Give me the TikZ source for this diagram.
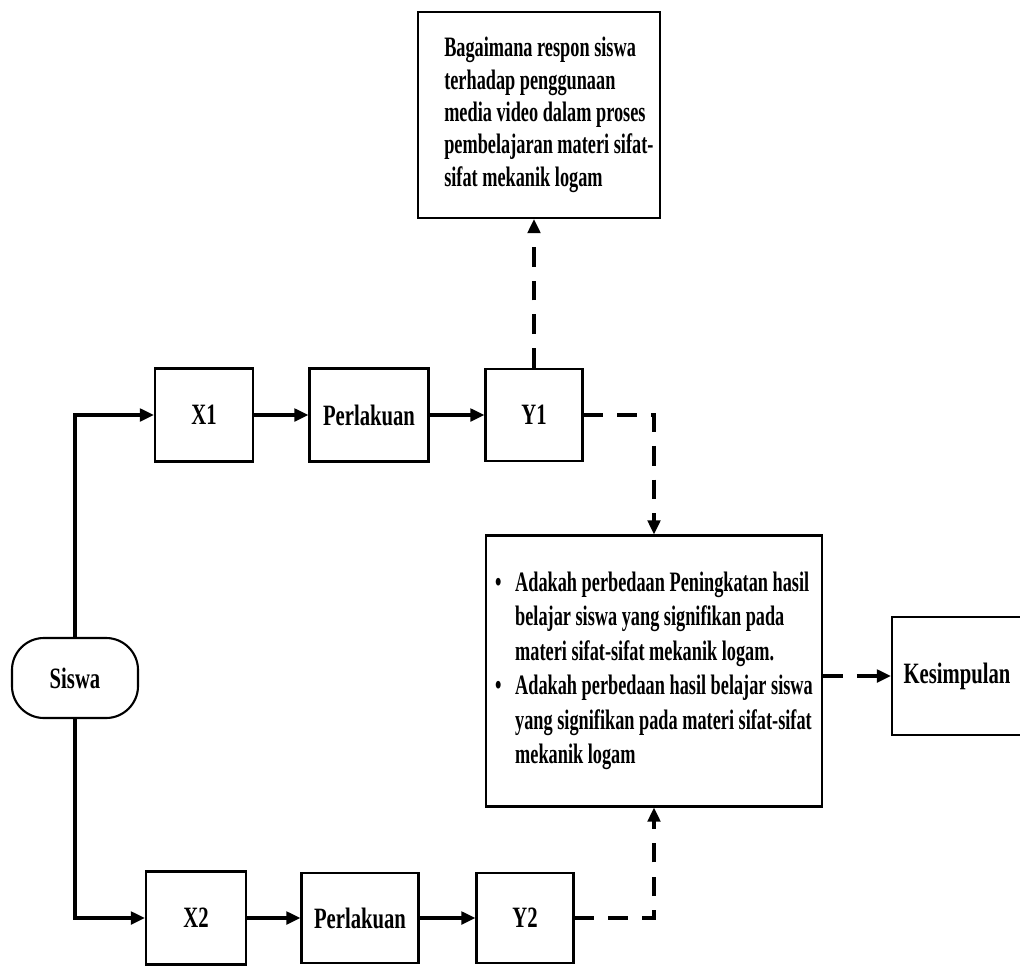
\documentclass[tikz,border=0pt]{standalone}
\usepackage{fontspec}
\setmainfont{Liberation Serif}[FakeStretch=0.7]
\newfontfamily\isifont{Liberation Serif}[FakeStretch=0.65]
\usetikzlibrary{arrows.meta}

\begin{document}
\begin{tikzpicture}
  [x=0.025cm, y=-0.025cm, font=\bfseries\fontsize{21}{23}\selectfont,
   kotak/.style={draw, line width=1.5pt, inner sep=0pt, align=left},
   isi/.style={font=\isifont\bfseries\fontsize{20}{23}\selectfont},
   panah/.style={line width=2.2pt, -{Triangle[length=10pt,width=9pt]}},
   putus/.style={panah, dash pattern=on 14pt off 10pt}]
  \useasboundingbox (0,0) rectangle (1020,966);

  % pertanyaan respon siswa
  \node [kotak, isi, minimum width=6.05cm, minimum height=5.15cm] (tanya) at (539,115)
    {\hspace*{14pt}\begin{tabular}{@{}l@{}}Bagaimana respon siswa\\terhadap penggunaan\\media video dalam proses\\pembelajaran materi sifat-\\sifat mekanik logam\end{tabular}};

  \node [kotak, rounded corners=0.8cm, minimum width=3.15cm, minimum height=2cm] (siswa) at (75,678) {Siswa};

  \node [kotak, minimum width=2.45cm, minimum height=2.325cm] (x1) at (204,415) {X1};
  \node [kotak, minimum width=2.975cm, minimum height=2.325cm] (p1) at (369,415) {Perlakuan};
  \node [kotak, minimum width=2.425cm, minimum height=2.3cm] (y1) at (534,415) {Y1};

  \node [kotak, minimum width=2.5cm, minimum height=2.325cm] (x2) at (196,918) {X2};
  \node [kotak, minimum width=2.925cm, minimum height=2.25cm] (p2) at (360,918) {Perlakuan};
  \node [kotak, minimum width=2.425cm, minimum height=2.25cm] (y2) at (525,918) {Y2};

  \node [kotak, isi, font=\isifont\bfseries\fontsize{20}{24.5}\selectfont,
         minimum width=8.4cm, minimum height=6.775cm] (beda) at (654,671)
    {\makebox[0.5cm][l]{\textbullet}Adakah perbedaan Peningkatan hasil\\
     \hspace*{0.5cm}belajar siswa yang signifikan pada\\
     \hspace*{0.5cm}materi sifat-sifat mekanik logam.\\
     \makebox[0.5cm][l]{\textbullet}Adakah perbedaan hasil belajar siswa\\
     \hspace*{0.5cm}yang signifikan pada materi sifat-sifat\\
     \hspace*{0.5cm}mekanik logam};

  \node [kotak, minimum width=3.25cm, minimum height=2.95cm] (simpul) at (957,676) {Kesimpulan};

  % siswa ke kelompok
  \draw [panah] (siswa.north) |- (x1.west);
  \draw [panah] (siswa.south) |- (x2.west);

  % alur perlakuan
  \draw [panah] (x1) -- (p1);
  \draw [panah] (p1) -- (y1);
  \draw [panah] (x2) -- (p2);
  \draw [panah] (p2) -- (y2);

  % hasil ke pertanyaan
  \draw [putus] (y1.north) -- (y1.north |- tanya.south);
  \draw [putus] (y1.east) -| (beda.north);
  \draw [putus] (y2.east) -| (beda.south);
  \draw [putus] (beda.east |- simpul.west) -- (simpul.west);
\end{tikzpicture}
\end{document}
